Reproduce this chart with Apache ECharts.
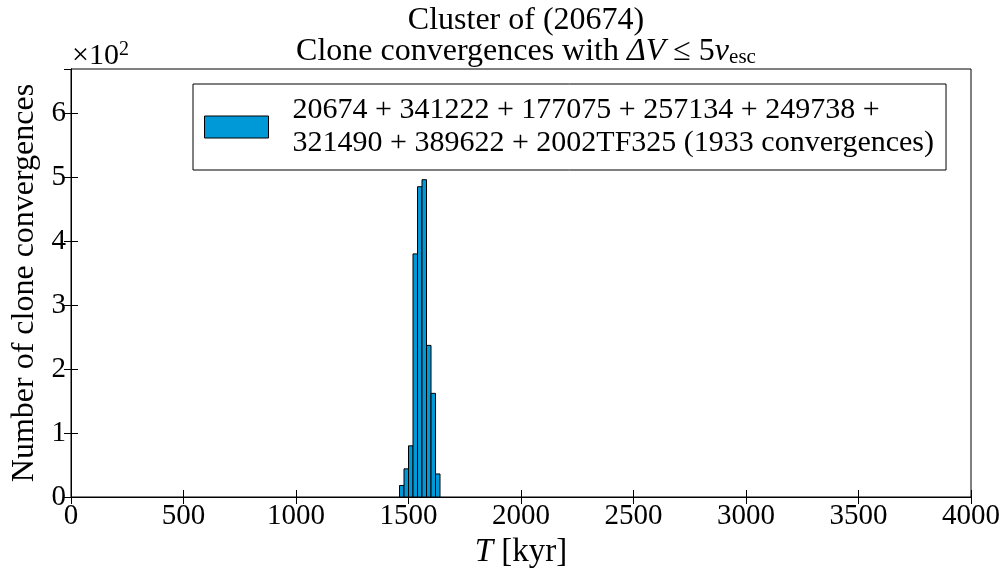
<!DOCTYPE html>
<html>
<head>
<meta charset="utf-8">
<script src="https://cdn.jsdelivr.net/npm/echarts@6/dist/echarts.min.js"></script>
<style>
  html, body { margin: 0; padding: 0; background: #fff; }
  #chart { width: 1004px; height: 571px; }
</style>
</head>
<body>
<div id="chart"></div>
<script>
// Histogram of clone convergence epochs (bins of 20 kyr)
const binStarts = [1460, 1480, 1500, 1520, 1540, 1560, 1580, 1600, 1620];
const counts    = [18, 44, 80, 380, 485, 496, 237, 162, 36];
const binWidth = 20;
const xTicks = [0, 500, 1000, 1500, 2000, 2500, 3000, 3500, 4000];
const yTicks = [0, 100, 200, 300, 400, 500, 600];
const seriesName = '20674 + 341222 + 177075 + 257134 + 249738 +\n321490 + 389622 + 2002TF325 (1933 convergences)';

const FONT = '"Liberation Serif", "DejaVu Serif", serif';
const BAR = '#0099d8';

const data = binStarts.map((s, i) => [s, s + binWidth, counts[i]]);

const chart = echarts.init(document.getElementById('chart'), null, { renderer: 'canvas' });

const tickStyle = { show: true, inside: true, length: 7, lineStyle: { color: '#000', width: 1 } };

chart.setOption({
  animation: false,
  backgroundColor: '#fff',
  title: {
    text: 'Cluster of (20674)\n{n|Clone convergences with }{i|ΔV}{n| ≤ 5}{i|v}{s|esc}',
    left: 521, top: 0, textAlign: 'center',
    textStyle: {
      fontFamily: FONT, fontSize: 32, fontWeight: 'normal', color: '#000', lineHeight: 31,
      rich: {
        n: { fontFamily: FONT, fontSize: 32, color: '#000', lineHeight: 31 },
        i: { fontFamily: FONT, fontSize: 32, fontStyle: 'italic', color: '#000', lineHeight: 31 },
        s: { fontFamily: FONT, fontSize: 21, color: '#000', padding: [12, 0, 0, 0], lineHeight: 31 }
      }
    }
  },
  grid: { left: 71, right: 33, top: 69, bottom: 74, show: true, borderColor: '#000', borderWidth: 1,
          containLabel: false, outerBoundsMode: 'none' },
  legend: {
    left: 193, top: 84,
    orient: 'vertical',
    backgroundColor: '#fff',
    borderColor: '#000', borderWidth: 1, borderRadius: 0,
    padding: [10, 12, 10, 11],
    itemWidth: 64, itemHeight: 22,
    textStyle: { fontFamily: FONT, fontSize: 30, color: '#000', lineHeight: 33, padding: [0, 0, 0, 19] },
    data: [{ name: seriesName, icon: 'rect', itemStyle: { color: BAR, borderColor: '#000', borderWidth: 1 } }]
  },
  graphic: [{
    type: 'text', left: 72, top: 40,
    style: {
      text: '×10{sup|2}',
      font: '30px ' + FONT, fill: '#000',
      rich: { sup: { fontFamily: FONT, fontSize: 20, fill: '#000', padding: [0, 0, 12, 0] } }
    }
  }],
  xAxis: [{
    type: 'value', min: 0, max: 4000, interval: 500,
    position: 'bottom',
    name: '{i|T} [kyr]', nameLocation: 'middle', nameGap: 34,
    nameTextStyle: {
      fontFamily: FONT, fontSize: 33, color: '#000',
      rich: { i: { fontFamily: FONT, fontSize: 33, fontStyle: 'italic', color: '#000' } }
    },
    axisLine: { show: true, onZero: false, lineStyle: { color: '#000', width: 1 } },
    axisTick: tickStyle,
    splitLine: { show: false },
    axisLabel: { fontFamily: FONT, fontSize: 29, color: '#000', margin: 5,
      formatter: v => xTicks.includes(v) ? String(v) : '' }
  }, {
    type: 'value', min: 0, max: 4000, interval: 500, position: 'top',
    axisLine: { show: true, lineStyle: { color: '#000', width: 1 } },
    axisTick: tickStyle, axisLabel: { show: false }, splitLine: { show: false }
  }],
  yAxis: [{
    type: 'value', min: 0, max: 669, interval: 100,
    position: 'left',
    name: 'Number of clone convergences', nameLocation: 'middle', nameGap: 28,
    nameTextStyle: { fontFamily: FONT, fontSize: 32, color: '#000' },
    axisLine: { show: true, onZero: false, lineStyle: { color: '#000', width: 1 } },
    axisTick: tickStyle,
    splitLine: { show: false },
    axisLabel: { fontFamily: FONT, fontSize: 29, color: '#000', margin: 5, showMaxLabel: false,
      formatter: v => yTicks.includes(v) ? String(v / 100) : '' }
  }, {
    type: 'value', min: 0, max: 669, interval: 100, position: 'right',
    axisLine: { show: true, lineStyle: { color: '#000', width: 1 } },
    axisTick: tickStyle, axisLabel: { show: false }, splitLine: { show: false }
  }],
  series: [{
    name: seriesName,
    type: 'custom',
    xAxisIndex: 0, yAxisIndex: 0,
    data: data,
    encode: { x: [0, 1], y: 2 },
    renderItem: function (params, api) {
      const p0 = api.coord([api.value(0), 0]);
      const p1 = api.coord([api.value(1), api.value(2)]);
      return {
        type: 'rect',
        shape: { x: p0[0], y: p1[1], width: p1[0] - p0[0], height: p0[1] - p1[1] },
        style: { fill: BAR, stroke: '#000', lineWidth: 1 }
      };
    },
    itemStyle: { color: BAR, borderColor: '#000', borderWidth: 1 },
    z: 2
  }]
});
</script>
</body>
</html>
